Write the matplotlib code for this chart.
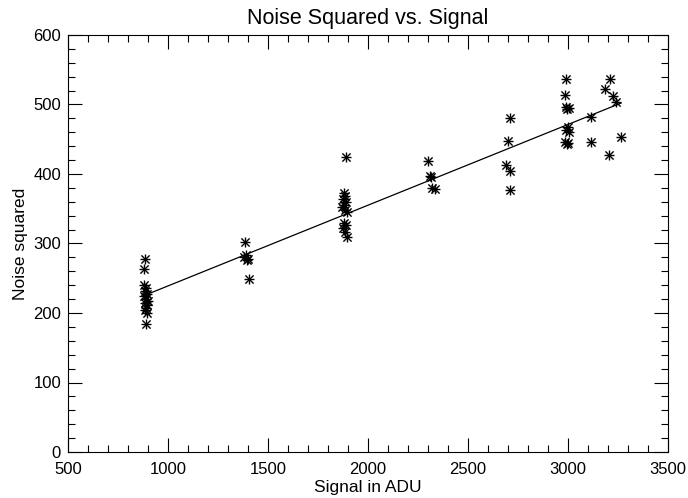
import matplotlib
matplotlib.use("Agg")
import matplotlib.pyplot as plt
from matplotlib.ticker import MultipleLocator
import numpy as np

# signal (ADU) and noise squared
signal = [885, 880, 880, 890, 885, 895, 880, 890, 900, 885, 895, 890, 885, 895, 890,
          1385, 1390, 1380, 1400, 1395, 1405,
          1890, 1880, 1885, 1875, 1890, 1880, 1870, 1885, 1895, 1880, 1890, 1875, 1885, 1895,
          2300, 2310, 2315, 2320, 2335,
          2710, 2700, 2690, 2710, 2710,
          2990, 2985, 2990, 3005, 2995, 3000, 2990, 3005, 2985, 2995, 3000,
          3115, 3115, 3185, 3210, 3225, 3240, 3265, 3205]
noise_sq = [278, 263, 240, 236, 232, 228, 224, 220, 217, 214, 211, 207, 204, 200, 184,
            302, 283, 281, 278, 276, 249,
            424, 372, 368, 364, 360, 356, 352, 348, 345, 330, 326, 322, 317, 309,
            418, 397, 395, 380, 379,
            480, 447, 413, 405, 377,
            536, 514, 496, 495, 493, 467, 463, 461, 446, 443, 444,
            482, 446, 522, 536, 512, 503, 453, 428]

x = np.array(signal, dtype=float)
y = np.array(noise_sq, dtype=float)
slope, intercept = np.polyfit(x, y, 1)
fit_x = np.array([x.min(), x.max()])

plt.rcParams['font.family'] = ['Liberation Sans Narrow', 'Liberation Sans', 'DejaVu Sans']

fig = plt.figure(figsize=(6.88, 4.98), dpi=100)
ax = fig.add_axes([68/688, 1 - 452/498, 600/688, 417/498])

ax.scatter(x, y, marker='+', s=60, color='black', linewidths=1.0)
ax.scatter(x, y, marker='x', s=35, color='black', linewidths=1.0)
ax.plot(fit_x, slope*fit_x + intercept, color='black', lw=0.9)

ax.set_xlim(500, 3500)
ax.set_ylim(0, 600)
ax.xaxis.set_major_locator(MultipleLocator(500))
ax.xaxis.set_minor_locator(MultipleLocator(100))
ax.yaxis.set_major_locator(MultipleLocator(100))
ax.yaxis.set_minor_locator(MultipleLocator(20))
ax.tick_params(which='both', direction='in', top=True, right=True, labelsize=12, width=0.8)
ax.tick_params(which='major', length=10)
ax.tick_params(which='minor', length=5)
ax.tick_params(axis='x', which='major', pad=7)
ax.tick_params(axis='y', which='major', pad=5)
for s in ax.spines.values():
    s.set_linewidth(0.8)

ax.set_xlabel('Signal in ADU', fontsize=12.5, labelpad=2)
ax.set_ylabel('Noise squared', fontsize=12.5, labelpad=4)
ax.set_title('Noise Squared vs. Signal', fontsize=15.5, pad=8)

fig.savefig('out.png', dpi=100)
plt.close(fig)
